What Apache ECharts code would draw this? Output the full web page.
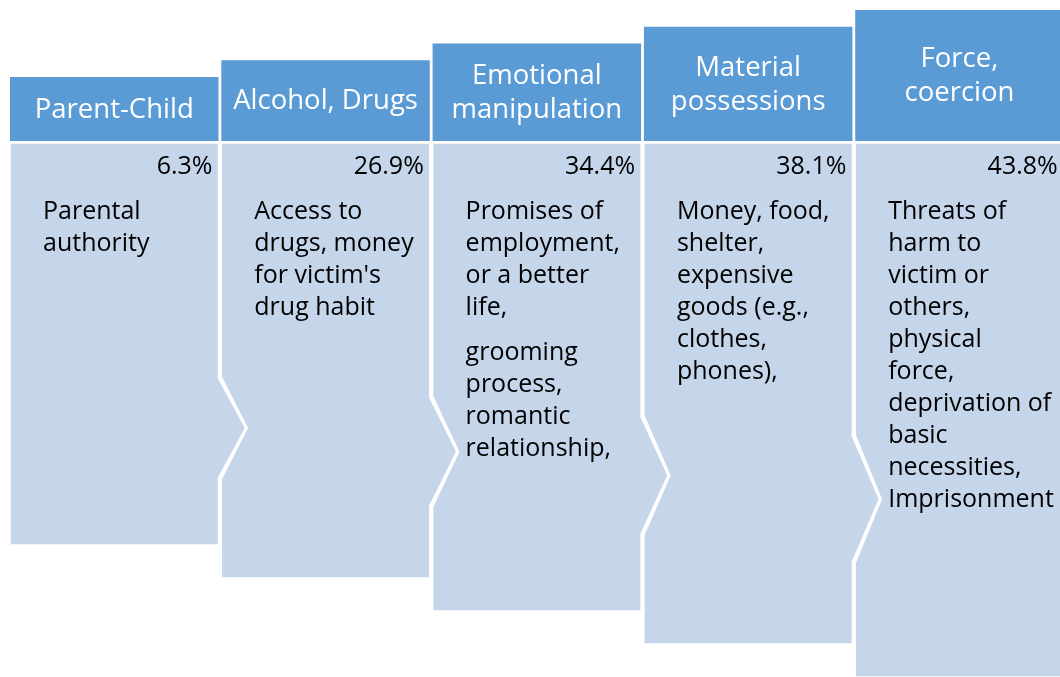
<!DOCTYPE html>
<html>
<head>
<meta charset="utf-8">
<script src="https://cdn.jsdelivr.net/npm/echarts@6/dist/echarts.min.js"></script>
<style>
  html, body { margin: 0; padding: 0; background: #fff; }
  #chart { width: 1060px; height: 677px; }
</style>
</head>
<body>
<div id="chart"></div>
<script>
// column titles, left to right
var categories = ['Parent-Child', 'Alcohol, Drugs', 'Emotional\nmanipulation', 'Material\npossessions', 'Force,\ncoercion']
// share of cases per category (%)
var percents = [6.3, 26.9, 34.4, 38.1, 43.8]
// description paragraphs per column
var descriptions = [
  ['Parental\nauthority'],
  ['Access to\ndrugs, money\nfor victim\'s\ndrug habit'],
  ['Promises of\nemployment,\nor a better\nlife,', 'grooming\nprocess,\nromantic\nrelationship,'],
  ['Money, food,\nshelter,\nexpensive\ngoods (e.g.,\nclothes,\nphones),'],
  ['Threats of\nharm to\nvictim or\nothers,\nphysical\nforce,\ndeprivation of\nbasic\nnecessities,\nImprisonment']
]

var HEAD = '#5b9bd5'
var BODY = '#c5d5ea'
var FONT = '"Open Sans", "Noto Sans", sans-serif'
var STEP = 211.3 // column pitch, the last column runs off the right edge

var chart = echarts.init(document.getElementById('chart'))

function renderItem (params, api) {
  var i = api.value(0)
  var band = api.size([1, 0])[0]
  var start = api.coord([0, 0])[0] - band / 2
  var x0 = start + i * STEP
  var x1 = x0 + 208.5
  var headTop = 77 - i * 16.75
  var headBot = 141
  var bodyTop = 143
  var bodyBot = 545 + i * 33

  // arrow (right side) and notch (left side) positions
  var arrow = function (k) {
    var mid = 428 + 23.7 * k
    var half = 50 + 4.3 * k
    return { top: mid - half, mid: mid, bot: mid + half }
  }

  var pts = [[x0, bodyTop], [x1, bodyTop]]
  if (i < categories.length - 1) {
    var a = arrow(i)
    pts.push([x1, a.top], [x1 + 27, a.mid], [x1, a.bot])
  }
  pts.push([x1, bodyBot], [x0, bodyBot])
  if (i > 0) {
    var p = arrow(i - 1)
    pts.push([x0, p.bot + 1], [x0 + 26, p.mid], [x0, p.top - 1])
  }

  var children = [
    {
      type: 'polygon',
      shape: { points: pts },
      style: { fill: BODY, stroke: '#fff', lineWidth: 1.5 }
    },
    {
      type: 'rect',
      shape: { x: x0, y: headTop, width: x1 - x0, height: headBot - headTop },
      style: { fill: HEAD }
    },
    {
      type: 'text',
      style: {
        x: (x0 + x1) / 2,
        y: (headTop + headBot) / 2 + 1,
        text: categories[i],
        fill: '#fff',
        fontSize: 27.5,
        fontFamily: FONT,
        lineHeight: 34,
        align: 'center',
        verticalAlign: 'middle'
      }
    },
    {
      type: 'text',
      style: {
        x: x1 - 6,
        y: 167,
        text: percents[i].toFixed(1) + '%',
        fill: '#000',
        fontSize: 25,
        fontFamily: FONT,
        align: 'right',
        verticalAlign: 'middle'
      }
    }
  ]

  var y = 196
  descriptions[i].forEach(function (para) {
    children.push({
      type: 'text',
      style: {
        x: x0 + 33,
        y: y,
        text: para,
        fill: '#000',
        fontSize: 25,
        fontFamily: FONT,
        lineHeight: 32,
        align: 'left',
        verticalAlign: 'top'
      }
    })
    y += para.split('\n').length * 32 + 13
  })

  return { type: 'group', children: children }
}

chart.setOption({
  animation: false,
  grid: { left: 10, top: 0, right: 0, bottom: 0 },
  xAxis: { type: 'category', data: categories, show: false },
  yAxis: { type: 'value', min: 0, max: 1, show: false },
  series: [
    {
      type: 'custom',
      renderItem: renderItem,
      clip: false,
      encode: { x: 0 },
      data: categories.map(function (c, i) { return [i] })
    }
  ]
})
</script>
</body>
</html>
